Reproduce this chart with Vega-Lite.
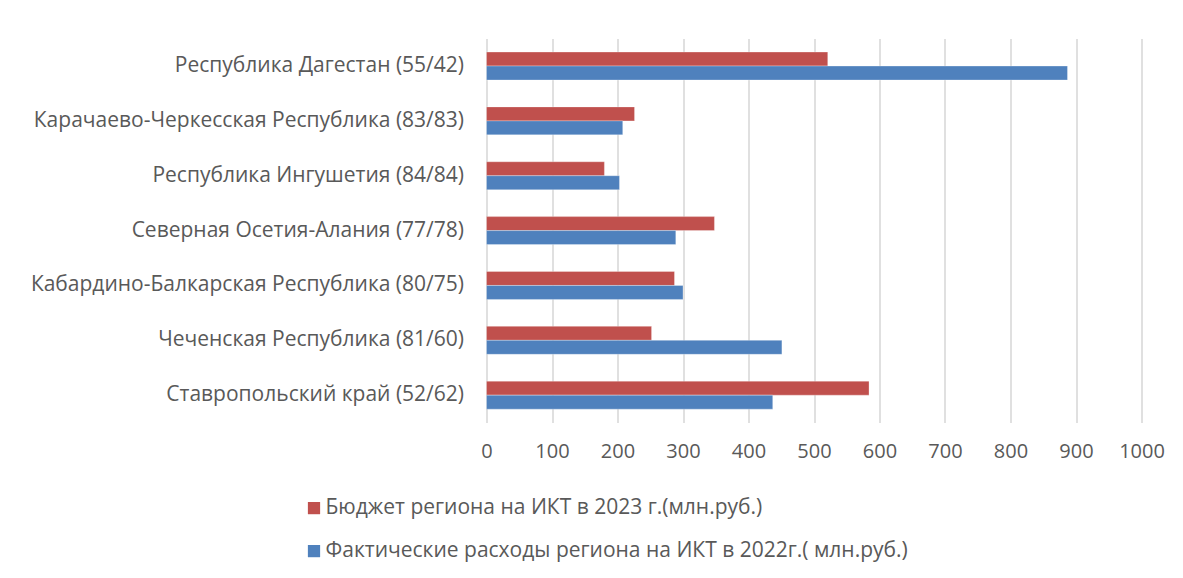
{
  "$schema": "https://vega.github.io/schema/vega-lite/v6.json",
  "autosize": {"type": "none"},
  "width": 655,
  "height": 384,
  "padding": {"left": 486.5, "top": 38.6, "right": 41.5, "bottom": 155.4},
  "background": "white",
  "config": {
    "font": "Open Sans",
    "view": {"stroke": null},
    "axis": {"labelColor": "#595959", "labelFont": "Open Sans"},
    "legend": {"labelColor": "#595959", "labelFont": "Open Sans"}
  },
  "data": {
    "values": [
      {"region": "Республика Дагестан (55/42)", "series": "Бюджет региона на ИКТ в 2023 г.(млн.руб.)", "value": 521},
      {"region": "Республика Дагестан (55/42)", "series": "Фактические расходы региона на ИКТ в 2022г.( млн.руб.)", "value": 887},
      {"region": "Карачаево-Черкесская Республика (83/83)", "series": "Бюджет региона на ИКТ в 2023 г.(млн.руб.)", "value": 226},
      {"region": "Карачаево-Черкесская Республика (83/83)", "series": "Фактические расходы региона на ИКТ в 2022г.( млн.руб.)", "value": 208},
      {"region": "Республика Ингушетия (84/84)", "series": "Бюджет региона на ИКТ в 2023 г.(млн.руб.)", "value": 180},
      {"region": "Республика Ингушетия (84/84)", "series": "Фактические расходы региона на ИКТ в 2022г.( млн.руб.)", "value": 203},
      {"region": "Северная Осетия-Алания (77/78)", "series": "Бюджет региона на ИКТ в 2023 г.(млн.руб.)", "value": 348},
      {"region": "Северная Осетия-Алания (77/78)", "series": "Фактические расходы региона на ИКТ в 2022г.( млн.руб.)", "value": 289},
      {"region": "Кабардино-Балкарская Республика (80/75)", "series": "Бюджет региона на ИКТ в 2023 г.(млн.руб.)", "value": 287},
      {"region": "Кабардино-Балкарская Республика (80/75)", "series": "Фактические расходы региона на ИКТ в 2022г.( млн.руб.)", "value": 300},
      {"region": "Чеченская Республика (81/60)", "series": "Бюджет региона на ИКТ в 2023 г.(млн.руб.)", "value": 252},
      {"region": "Чеченская Республика (81/60)", "series": "Фактические расходы региона на ИКТ в 2022г.( млн.руб.)", "value": 451},
      {"region": "Ставропольский край (52/62)", "series": "Бюджет региона на ИКТ в 2023 г.(млн.руб.)", "value": 584},
      {"region": "Ставропольский край (52/62)", "series": "Фактические расходы региона на ИКТ в 2022г.( млн.руб.)", "value": 437}
    ]
  },
  "mark": {"type": "bar", "stroke": "white", "strokeWidth": 0.6, "strokeOpacity": 0.5},
  "encoding": {
    "y": {
      "field": "region",
      "type": "nominal",
      "sort": null,
      "title": null,
      "scale": {"paddingInner": 0.49, "paddingOuter": 0.245},
      "axis": {"domain": false, "ticks": false, "labelFontSize": 21, "labelPadding": 23, "labelLimit": 480}
    },
    "yOffset": {
      "field": "series",
      "type": "nominal",
      "sort": ["Бюджет региона на ИКТ в 2023 г.(млн.руб.)", "Фактические расходы региона на ИКТ в 2022г.( млн.руб.)"]
    },
    "x": {
      "field": "value",
      "type": "quantitative",
      "title": null,
      "scale": {"domain": [0, 1000], "nice": false},
      "axis": {
        "values": [0, 100, 200, 300, 400, 500, 600, 700, 800, 900, 1000],
        "format": "d",
        "labelFlush": false,
        "labelOverlap": false,
        "domain": false,
        "ticks": false,
        "grid": true,
        "gridColor": "#d9d9d9",
        "gridWidth": 1.6,
        "labelFontSize": 20,
        "labelPadding": 19
      }
    },
    "color": {
      "field": "series",
      "type": "nominal",
      "title": null,
      "sort": ["Бюджет региона на ИКТ в 2023 г.(млн.руб.)", "Фактические расходы региона на ИКТ в 2022г.( млн.руб.)"],
      "scale": {"range": ["#C0504D", "#4F81BD"]},
      "legend": {
        "orient": "none",
        "legendX": -183,
        "legendY": 459,
        "direction": "vertical",
        "symbolType": "square",
        "symbolSize": 150,
        "symbolStrokeWidth": 0,
        "symbolOpacity": 1,
        "labelFontSize": 21,
        "labelLimit": 700,
        "rowPadding": 21,
        "labelOffset": 1
      }
    }
  }
}
